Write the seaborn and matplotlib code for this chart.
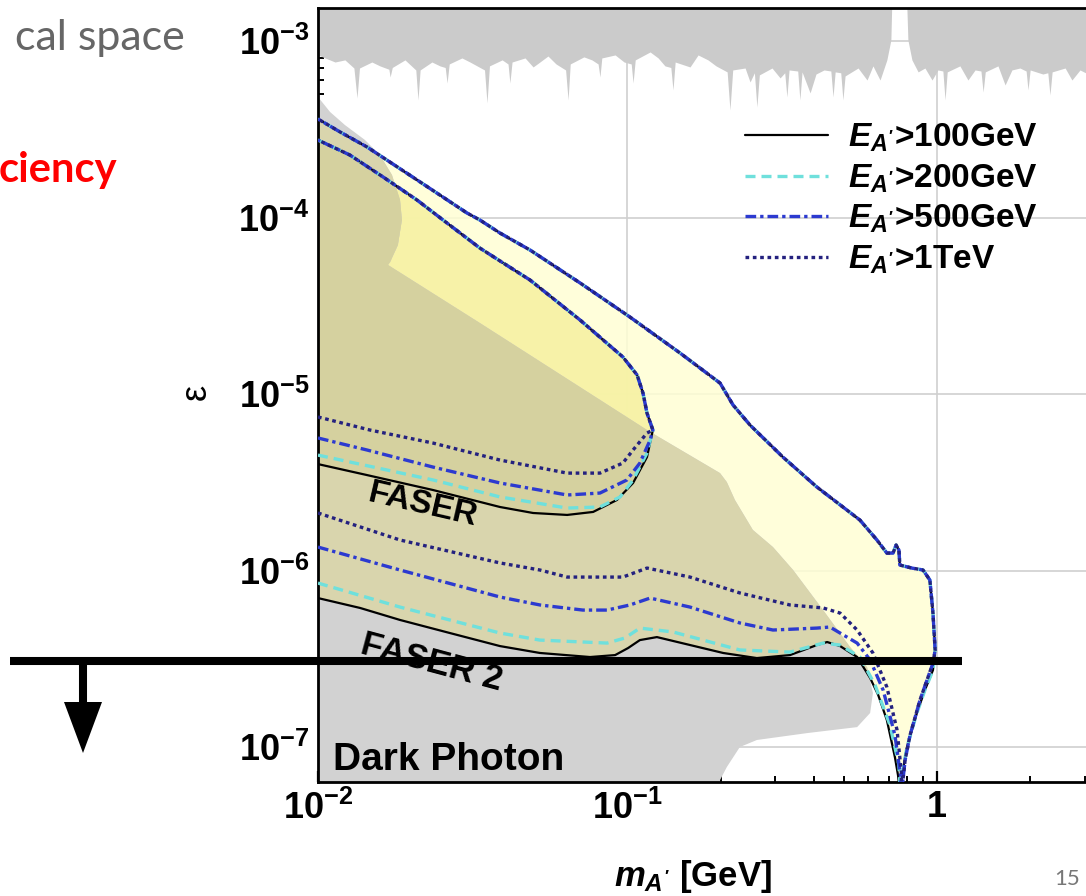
import numpy as np
import matplotlib
matplotlib.use("Agg")
import matplotlib.pyplot as plt
import seaborn as sns
from matplotlib.patches import Polygon
from matplotlib.lines import Line2D
from matplotlib.ticker import LogLocator, NullFormatter

# ---------------- data: (log10 m_A' [GeV], log10 epsilon) ----------------
# jagged band of existing limits at large epsilon (lower edge)
top_band = [(-2.000, -3.079), (-1.977, -3.096), (-1.945, -3.119), (-1.913, -3.107), (-1.884, -3.153),
            (-1.874, -3.323), (-1.866, -3.153), (-1.826, -3.119), (-1.800, -3.141), (-1.771, -3.160),
            (-1.767, -3.204), (-1.760, -3.150), (-1.719, -3.107), (-1.684, -3.164), (-1.677, -3.334),
            (-1.670, -3.164), (-1.632, -3.119), (-1.606, -3.141), (-1.589, -3.150), (-1.583, -3.238),
            (-1.576, -3.130), (-1.535, -3.096), (-1.509, -3.119), (-1.462, -3.164), (-1.454, -3.351),
            (-1.446, -3.141), (-1.405, -3.107), (-1.386, -3.130), (-1.380, -3.238), (-1.373, -3.119),
            (-1.331, -3.096), (-1.305, -3.147), (-1.283, -3.119), (-1.257, -3.085), (-1.231, -3.130),
            (-1.200, -3.164), (-1.192, -3.334), (-1.185, -3.130), (-1.141, -3.090), (-1.115, -3.107),
            (-1.095, -3.130), (-1.089, -3.204), (-1.083, -3.096), (-1.040, -3.079), (-1.011, -3.119),
            (-0.988, -3.130), (-0.982, -3.238), (-0.975, -3.107), (-0.927, -3.062), (-0.901, -3.096),
            (-0.879, -3.141), (-0.860, -3.150), (-0.853, -3.277), (-0.846, -3.119), (-0.798, -3.147),
            (-0.772, -3.079), (-0.740, -3.107), (-0.714, -3.141), (-0.678, -3.175), (-0.669, -3.391),
            (-0.660, -3.164), (-0.620, -3.153), (-0.604, -3.232), (-0.590, -3.180), (-0.582, -3.374),
            (-0.574, -3.192), (-0.533, -3.153), (-0.507, -3.209), (-0.492, -3.180), (-0.485, -3.317),
            (-0.478, -3.164), (-0.450, -3.170), (-0.443, -3.334), (-0.436, -3.175), (-0.410, -3.294),
            (-0.391, -3.187), (-0.365, -3.164), (-0.343, -3.170), (-0.336, -3.317), (-0.329, -3.175),
            (-0.311, -3.180), (-0.304, -3.334), (-0.297, -3.198), (-0.255, -3.153), (-0.226, -3.221),
            (-0.207, -3.141), (-0.184, -3.221), (-0.162, -3.107), (-0.149, -2.994), (-0.142, -2.500),
            (-0.103, -2.500), (-0.094, -2.994), (-0.081, -3.107), (-0.061, -3.175), (-0.039, -3.153),
            (-0.016, -3.221), (0.003, -3.164), (0.019, -3.170), (0.026, -3.334), (0.033, -3.175),
            (0.074, -3.141), (0.100, -3.221), (0.123, -3.164), (0.142, -3.170), (0.149, -3.289),
            (0.156, -3.175), (0.197, -3.141), (0.220, -3.249), (0.242, -3.164), (0.268, -3.153),
            (0.288, -3.170), (0.294, -3.277), (0.301, -3.164), (0.342, -3.187), (0.358, -3.180),
            (0.365, -3.306), (0.372, -3.175), (0.414, -3.153), (0.436, -3.221), (0.462, -3.164),
            (0.494, -3.192), (0.550, -3.160), (0.620, -3.250), (0.700, -3.170)]

# existing dark-photon limits (grey area at low epsilon / low mass)
grey_region = [(-2.050, -3.300), (-2.000, -3.317), (-1.961, -3.402), (-1.913, -3.476), (-1.848, -3.561),
               (-1.800, -3.646), (-1.761, -3.759), (-1.735, -3.901), (-1.729, -4.014), (-1.742, -4.156),
               (-1.767, -4.252), (-1.774, -4.269), (-1.477, -4.598), (-0.937, -5.204), (-0.701, -5.448),
               (-0.679, -5.499), (-0.653, -5.600), (-0.595, -5.770), (-0.530, -5.867), (-0.465, -5.997),
               (-0.368, -6.224), (-0.281, -6.433), (-0.226, -6.547), (-0.207, -6.694), (-0.216, -6.807),
               (-0.258, -6.887), (-0.420, -6.921), (-0.582, -6.960), (-0.637, -7.000), (-0.679, -7.113),
               (-0.701, -7.187), (-0.714, -7.400), (-2.050, -7.400)]

# FASER 2: shared upper edge (left -> right), right edges (top -> tip), lower edges (left -> tip)
f2_upper = [(-2.000, -3.442), (-1.929, -3.515), (-1.842, -3.600), (-1.680, -3.787), (-1.519, -3.974),
            (-1.477, -4.014), (-1.412, -4.088), (-1.315, -4.184), (-1.153, -4.371), (-0.992, -4.564),
            (-0.830, -4.768), (-0.701, -4.938), (-0.659, -5.062), (-0.604, -5.176), (-0.498, -5.357),
            (-0.388, -5.527), (-0.304, -5.640), (-0.249, -5.714), (-0.194, -5.827), (-0.162, -5.901),
            (-0.142, -5.901), (-0.132, -5.855), (-0.123, -5.884), (-0.120, -5.969), (-0.081, -5.986),
            (-0.045, -5.997), (-0.023, -6.054), (-0.013, -6.241), (-0.006, -6.450)]
f2_right_outer = [(-0.006, -6.450), (-0.013, -6.564), (-0.039, -6.677), (-0.065, -6.807),
                  (-0.097, -7.000), (-0.113, -7.159), (-0.117, -7.300)]
f2_right_inner = [(-0.006, -6.450), (-0.013, -6.524), (-0.055, -6.734), (-0.087, -6.932),
                  (-0.103, -7.074), (-0.117, -7.300)]
f2_low_100 = [(-2.000, -6.156), (-1.864, -6.212), (-1.735, -6.280), (-1.574, -6.354), (-1.412, -6.428),
              (-1.283, -6.467), (-1.121, -6.490), (-1.040, -6.479), (-0.998, -6.439), (-0.960, -6.394),
              (-0.905, -6.377), (-0.798, -6.422), (-0.691, -6.467), (-0.582, -6.496), (-0.475, -6.479),
              (-0.388, -6.422), (-0.355, -6.405), (-0.313, -6.428), (-0.258, -6.490), (-0.216, -6.609),
              (-0.190, -6.705), (-0.162, -6.847), (-0.136, -7.057), (-0.126, -7.159), (-0.117, -7.300)]
f2_low_200 = [(-2.000, -6.071), (-1.735, -6.207), (-1.412, -6.354), (-1.283, -6.394), (-1.066, -6.411),
              (-1.008, -6.382), (-0.960, -6.326), (-0.853, -6.348), (-0.637, -6.450), (-0.475, -6.462),
              (-0.368, -6.411), (-0.313, -6.422), (-0.249, -6.490), (-0.200, -6.649), (-0.152, -6.875),
              (-0.123, -7.102), (-0.117, -7.300)]
f2_low_500 = [(-2.000, -5.867), (-1.735, -5.997), (-1.412, -6.150), (-1.283, -6.195), (-1.144, -6.224),
              (-1.066, -6.224), (-0.992, -6.195), (-0.927, -6.156), (-0.798, -6.207), (-0.637, -6.297),
              (-0.530, -6.337), (-0.388, -6.326), (-0.346, -6.320), (-0.258, -6.411), (-0.216, -6.507),
              (-0.174, -6.677), (-0.136, -6.932), (-0.118, -7.159), (-0.117, -7.300)]
f2_low_1000 = [(-2.000, -5.674), (-1.735, -5.827), (-1.412, -5.957), (-1.283, -5.997), (-1.195, -6.037),
               (-1.015, -6.037), (-0.937, -5.986), (-0.798, -6.037), (-0.637, -6.127), (-0.475, -6.195),
               (-0.368, -6.212), (-0.313, -6.241), (-0.258, -6.337), (-0.207, -6.467), (-0.162, -6.660),
               (-0.129, -6.904), (-0.115, -7.147), (-0.117, -7.300)]

# FASER: shared upper edge (left -> tip), lower edges (left -> tip)
f1_upper = [(-2.000, -3.561), (-1.897, -3.646), (-1.790, -3.770), (-1.680, -3.901), (-1.596, -4.014),
            (-1.477, -4.173), (-1.412, -4.246), (-1.315, -4.354), (-1.153, -4.581), (-1.015, -4.790),
            (-0.969, -4.892), (-0.950, -4.994), (-0.937, -5.108), (-0.918, -5.204)]
f1_low_100 = [(-2.000, -5.397), (-1.842, -5.459), (-1.628, -5.544), (-1.412, -5.640), (-1.305, -5.674),
              (-1.195, -5.685), (-1.111, -5.668), (-1.034, -5.600), (-0.982, -5.504), (-0.937, -5.357),
              (-0.918, -5.204)]
f1_low_200 = [(-2.000, -5.346), (-1.628, -5.487), (-1.412, -5.583), (-1.195, -5.646), (-1.089, -5.640),
              (-1.024, -5.583), (-0.982, -5.487), (-0.937, -5.334), (-0.918, -5.204)]
f1_low_500 = [(-2.000, -5.249), (-1.842, -5.317), (-1.628, -5.414), (-1.412, -5.504), (-1.195, -5.572),
              (-1.089, -5.561), (-1.002, -5.487), (-0.960, -5.391), (-0.927, -5.261), (-0.918, -5.204)]
f1_low_1000 = [(-2.000, -5.130), (-1.832, -5.204), (-1.628, -5.278), (-1.412, -5.374), (-1.195, -5.448),
               (-1.089, -5.448), (-1.015, -5.391), (-0.982, -5.317), (-0.937, -5.221), (-0.918, -5.204)]

energy_labels = [r"$\mathit{E}_{\mathit{A'}}$>100GeV", r"$\mathit{E}_{\mathit{A'}}$>200GeV",
                 r"$\mathit{E}_{\mathit{A'}}$>500GeV", r"$\mathit{E}_{\mathit{A'}}$>1TeV"]
x_tick_vals = [1e-2, 1e-1, 1]
x_tick_labels = [r"$10^{-2}$", r"$10^{-1}$", "1"]
y_tick_vals = [1e-7, 1e-6, 1e-5, 1e-4, 1e-3]
y_tick_labels = [r"$10^{-7}$", r"$10^{-6}$", r"$10^{-5}$", r"$10^{-4}$", r"$10^{-3}$"]

# ---------------- styling ----------------
sns.set_style("white")
plt.rcParams["font.family"] = ["Liberation Sans", "DejaVu Sans"]
plt.rcParams["font.weight"] = "bold"
plt.rcParams["text.color"] = "black"
plt.rcParams["axes.labelcolor"] = "black"
plt.rcParams["xtick.color"] = "black"
plt.rcParams["ytick.color"] = "black"
plt.rcParams["mathtext.fontset"] = "custom"
plt.rcParams["mathtext.rm"] = "Liberation Sans:bold"
plt.rcParams["mathtext.bf"] = "Liberation Sans:bold"
plt.rcParams["mathtext.it"] = "Liberation Sans:italic:bold"
plt.rcParams["mathtext.default"] = "rm"

styles = [dict(color="black", lw=1.6, linestyle="-"),
          dict(color="#6fe0dc", lw=2.4, linestyle=(0, (3.0, 1.8))),
          dict(color="#2c3ad0", lw=2.4, linestyle=(0, (3.2, 1.2, 1.0, 1.2))),
          dict(color="#24217f", lw=2.4, linestyle=(0, (1.1, 1.1)))]


def to_lin(pts):
    a = np.array(pts, dtype=float)
    return 10 ** a[:, 0], 10 ** a[:, 1]


W, H = 1086, 896
fig = plt.figure(figsize=(W / 100, H / 100), dpi=100)
ax_left, ax_right, ax_top, ax_bot = 318, 1150.7, 8, 782
ax = fig.add_axes([ax_left / W, 1 - ax_bot / H, (ax_right - ax_left) / W, (ax_bot - ax_top) / H])
ax.set_xscale("log")
ax.set_yscale("log")
ax.set_xlim(1e-2, 10 ** 0.6905)
ax.set_ylim(10 ** -7.198, 10 ** -2.813)

ax.grid(True, which="major", color="#cfcfcf", lw=1.2)
ax.set_axisbelow(True)

# FASER 2 reach (light yellow)
f2_poly_pts = f2_upper + f2_right_outer[1:] + f2_low_100[::-1][1:]
px, py = to_lin(f2_poly_pts)
ax.fill(px, py, color="#fffed4", alpha=0.85, lw=0, zorder=1)
# FASER reach (medium yellow)
f1_poly_pts = f1_upper + f1_low_100[::-1][1:]
qx, qy = to_lin(f1_poly_pts)
ax.fill(qx, qy, color="#f6f1a0", alpha=0.85, lw=0, zorder=1.1)

# grey existing limits
gx, gy = to_lin(grey_region)
grey_patch = Polygon(np.column_stack([gx, gy]), closed=True, facecolor="#d2d2d2", lw=0, zorder=2)
ax.add_patch(grey_patch)
k2 = ax.fill(px, py, color="#d9d5ad", lw=0, zorder=2.1)[0]
k2.set_clip_path(grey_patch)
k1 = ax.fill(qx, qy, color="#d5d19f", lw=0, zorder=2.2)[0]
k1.set_clip_path(grey_patch)

# top jagged grey band
tx, ty = to_lin(top_band)
ax.fill_between(tx, ty, 10 ** -2.5, color="#cbcbcb", lw=0, zorder=2)

# contour lines
f2_lows = [f2_low_100, f2_low_200, f2_low_500, f2_low_1000]
f2_rights = [f2_right_outer, f2_right_outer, f2_right_inner, f2_right_inner]
f1_lows = [f1_low_100, f1_low_200, f1_low_500, f1_low_1000]
for low, right, st in zip(f2_lows, f2_rights, styles):
    cx, cy = to_lin(low + right[::-1] + f2_upper[::-1])
    sns.lineplot(x=cx, y=cy, sort=False, estimator=None, ax=ax, legend=False, zorder=3, **st)
for low, st in zip(f1_lows, styles):
    cx, cy = to_lin(low + f1_upper[::-1])
    sns.lineplot(x=cx, y=cy, sort=False, estimator=None, ax=ax, legend=False, zorder=3, **st)

# region labels
ax.text(10 ** -1.661, 10 ** -5.629, "FASER", fontsize=24, fontweight="bold", rotation=-13,
        ha="center", va="center", rotation_mode="anchor", zorder=4, color="black")
ax.text(10 ** -1.632, 10 ** -6.524, "FASER 2", fontsize=25, fontweight="bold", rotation=-15,
        ha="center", va="center", rotation_mode="anchor", zorder=4, color="black")
ax.text(10 ** -1.952, 10 ** -7.130, "Dark Photon", fontsize=28, fontweight="bold",
        ha="left", va="baseline", zorder=4, color="black")

# axes, ticks
ax.set_xticks(x_tick_vals)
ax.set_xticklabels(x_tick_labels)
ax.set_yticks(y_tick_vals)
ax.set_yticklabels(y_tick_labels)
ax.xaxis.set_minor_locator(LogLocator(base=10, subs=np.arange(2, 10)))
ax.yaxis.set_minor_locator(LogLocator(base=10, subs=np.arange(2, 10), numticks=20))
ax.xaxis.set_minor_formatter(NullFormatter())
ax.yaxis.set_minor_formatter(NullFormatter())
ax.tick_params(which="major", direction="in", length=8, width=1.6, labelsize=26, pad=6,
               bottom=True, left=True, top=False, right=False, colors="black")
ax.tick_params(which="minor", direction="in", length=4.5, width=1.4,
               bottom=True, left=True, top=False, right=False, colors="black")
for s in ["left", "bottom", "top"]:
    ax.spines[s].set_linewidth(2.0)
    ax.spines[s].set_color("black")
ax.spines["right"].set_visible(False)

ax.set_xlabel(r"$\mathit{m}_{\mathit{A'}}$ [GeV]", fontsize=25, fontweight="bold")
ax.xaxis.set_label_coords((693 - ax_left) / (ax_right - ax_left), -(858 - ax_bot) / (ax_bot - ax_top))
ax.set_ylabel("ε", fontsize=26, fontweight="normal")
ax.yaxis.set_label_coords((214 - ax_left) / (ax_right - ax_left), (ax_bot - 392) / (ax_bot - ax_top))

# legend
handles = [Line2D([], [], **st) for st in styles]
ax.legend(handles, energy_labels, loc="upper left", bbox_to_anchor=(745 / W, 1 - 122 / H),
          bbox_transform=fig.transFigure, frameon=False, borderpad=0, borderaxespad=0,
          handlelength=2.5, handletextpad=0.6, labelspacing=0.24,
          prop={"family": "Liberation Sans", "weight": "bold", "size": 24})

# slide decorations
fig.text(185 / W, 1 - 50 / H, "cal space", ha="right", va="baseline", color="#666666",
         fontsize=31, family="Lato", fontweight="normal")
fig.text(117 / W, 1 - 182 / H, "ciency", ha="right", va="baseline", color="#ff0000",
         fontsize=30, family="Lato", fontweight="bold")
fig.text(1054 / W, 1 - 885 / H, "15", ha="left", va="baseline", color="#777777",
         fontsize=16, family="Lato", fontweight="normal")
fig.add_artist(Line2D([10 / W, 962 / W], [1 - 661 / H, 1 - 661 / H], transform=fig.transFigure,
                      color="black", lw=5.8, solid_capstyle="butt", zorder=10))
fig.add_artist(Line2D([83 / W, 83 / W], [1 - 661 / H, 1 - 706 / H], transform=fig.transFigure,
                      color="black", lw=5.8, solid_capstyle="butt", zorder=10))
fig.add_artist(Polygon([[64 / W, 1 - 702 / H], [102 / W, 1 - 702 / H], [83 / W, 1 - 753 / H]],
                       closed=True, transform=fig.transFigure, facecolor="black", edgecolor="none",
                       zorder=10))

fig.savefig("out.png", dpi=100)
